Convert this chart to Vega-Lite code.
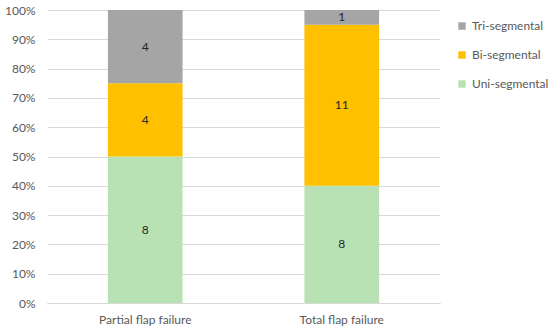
{
  "$schema": "https://vega.github.io/schema/vega-lite/v6.json",
  "autosize": "none",
  "width": 393,
  "height": 293,
  "padding": {"left": 47, "top": 10, "right": 110, "bottom": 32},
  "background": "white",
  "config": {
    "view": {"stroke": null},
    "font": "Lato"
  },
  "data": {
    "values": [
      {"group": "Partial flap failure", "segment": "Uni-segmental", "level": 1, "count": 8},
      {"group": "Partial flap failure", "segment": "Bi-segmental", "level": 2, "count": 4},
      {"group": "Partial flap failure", "segment": "Tri-segmental", "level": 3, "count": 4},
      {"group": "Total flap failure", "segment": "Uni-segmental", "level": 1, "count": 8},
      {"group": "Total flap failure", "segment": "Bi-segmental", "level": 2, "count": 11},
      {"group": "Total flap failure", "segment": "Tri-segmental", "level": 3, "count": 1}
    ]
  },
  "transform": [
    {"stack": "count", "groupby": ["group"], "sort": [{"field": "level", "order": "ascending"}], "offset": "normalize", "as": ["y0", "y1"]},
    {"calculate": "(datum.y0 + datum.y1) / 2", "as": "ymid"}
  ],
  "encoding": {
    "x": {
      "field": "group", "type": "nominal", "title": null,
      "scale": {"paddingInner": 0.62, "paddingOuter": 0.31},
      "axis": {"labelAngle": 0, "labelFontSize": 12, "labelColor": "#595959", "ticks": false, "domainColor": "#d9d9d9", "labelPadding": 11}
    }
  },
  "layer": [
    {
      "mark": {"type": "bar"},
      "encoding": {
        "y": {
          "field": "y0", "type": "quantitative", "title": null,
          "scale": {"domain": [0, 1]},
          "axis": {"format": "%", "values": [0,0.1,0.2,0.3,0.4,0.5,0.6,0.7,0.8,0.9,1], "labelOverlap": false, "domain": false, "ticks": false, "gridColor": "#d9d9d9", "labelColor": "#595959", "labelFontSize": 12, "labelPadding": 12}
        },
        "y2": {"field": "y1"},
        "color": {
          "field": "segment", "type": "nominal", "title": null,
          "scale": {"domain": ["Tri-segmental", "Bi-segmental", "Uni-segmental"], "range": ["#a5a5a5", "#ffc000", "#b9e2b4"]},
          "legend": {
            "orient": "none", "legendX": 409, "legendY": 10,
            "symbolType": "square", "symbolSize": 55, "symbolStrokeWidth": 0,
            "labelFontSize": 12, "labelColor": "#595959", "rowPadding": 17, "labelOffset": 4
          }
        }
      }
    },
    {
      "mark": {"type": "text", "fontSize": 12, "color": "#262626"},
      "encoding": {
        "y": {
          "field": "ymid", "type": "quantitative", "title": null,
          "scale": {"domain": [0, 1]},
          "axis": {"format": "%", "values": [0,0.1,0.2,0.3,0.4,0.5,0.6,0.7,0.8,0.9,1], "labelOverlap": false, "domain": false, "ticks": false, "gridColor": "#d9d9d9", "labelColor": "#595959", "labelFontSize": 12, "labelPadding": 12}
        },
        "text": {"field": "count", "type": "quantitative"}
      }
    }
  ]
}
